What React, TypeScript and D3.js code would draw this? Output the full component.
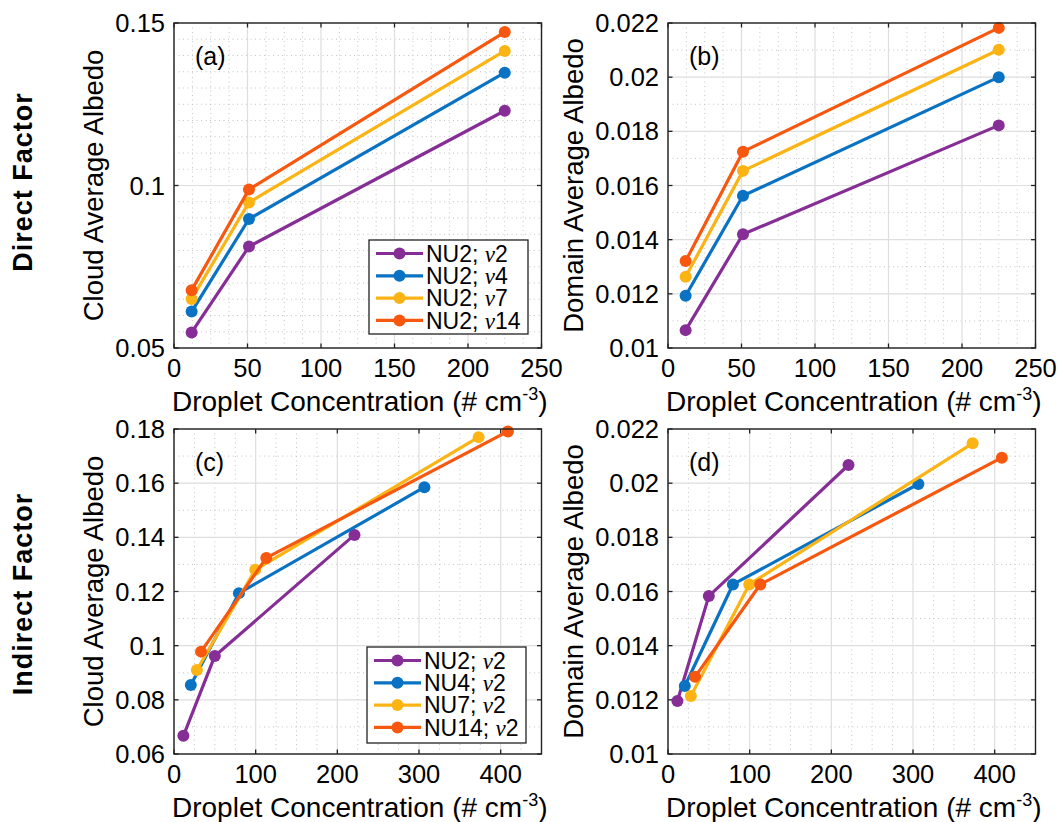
import React from 'react';
import * as d3 from 'd3';

// ---------- data ----------
const COLORS = ['#862E96', '#0A72C2', '#FBB414', '#F7570E'];

// Direct factor (a, b): same droplet concentration for all series
const xDirect = [12, 51, 225];
const aNu2v2 = [0.0548, 0.0812, 0.123];
const aNu2v4 = [0.0612, 0.0897, 0.1347];
const aNu2v7 = [0.0651, 0.0948, 0.1414];
const aNu2v14 = [0.0678, 0.0988, 0.1472];

const bNu2v2 = [0.01066, 0.0142, 0.01822];
const bNu2v4 = [0.01193, 0.01562, 0.02];
const bNu2v7 = [0.01263, 0.01654, 0.02101];
const bNu2v14 = [0.01321, 0.01725, 0.02182];

// Indirect factor (c, d)
const xNu2 = [11.5, 50, 221];
const xNu4 = [20.6, 79.5, 306.6];
const xNu7 = [28, 99.5, 373];
const xNu14 = [33.1, 113, 408.8];

const cNu2 = [0.0667, 0.0962, 0.1409];
const cNu4 = [0.0855, 0.1194, 0.1585];
const cNu7 = [0.091, 0.128, 0.177];
const cNu14 = [0.0978, 0.1324, 0.1791];

const dNu2 = [0.01196, 0.01583, 0.02067];
const dNu4 = [0.01251, 0.01626, 0.01997];
const dNu7 = [0.01214, 0.01626, 0.02147];
const dNu14 = [0.01285, 0.01626, 0.02094];

const legendDirect = ['NU2; ν2', 'NU2; ν4', 'NU2; ν7', 'NU2; ν14'];
const legendIndirect = ['NU2; ν2', 'NU4; ν2', 'NU7; ν2', 'NU14; ν2'];

const xTicksDirect = [0, 50, 100, 150, 200, 250];
const xTicksIndirect = [0, 100, 200, 300, 400];
const yTicksA = [0.05, 0.1, 0.15];
const yTicksB = [0.01, 0.012, 0.014, 0.016, 0.018, 0.02, 0.022];
const yTicksC = [0.06, 0.08, 0.1, 0.12, 0.14, 0.16, 0.18];
const yTicksD = [0.01, 0.012, 0.014, 0.016, 0.018, 0.02, 0.022];

const SANS = '"Liberation Sans", Arial, Helvetica, sans-serif';
const SERIF = '"Liberation Serif", "Times New Roman", serif';

type Series = { x: number[]; y: number[]; color: string };

type PanelProps = {
  left: number;
  top: number;
  width: number;
  height: number;
  xDomain: [number, number];
  yDomain: [number, number];
  xTicks: number[];
  yTicks: number[];
  xMinor: number;
  yMinor: number;
  series: Series[];
  yLabel: string;
  yLabelX: number;
  tag: string;
  legend?: { labels: string[]; x: number; y: number; w: number; h: number };
};

const fmt = (v: number) => String(+v.toFixed(6));

function minorRange(d: [number, number], step: number, majors: number[]) {
  const out: number[] = [];
  const n = Math.round((d[1] - d[0]) / step);
  for (let i = 0; i <= n; i++) {
    const v = d[0] + i * step;
    if (!majors.some((m) => Math.abs(m - v) < step * 1e-3)) out.push(v);
  }
  return out;
}

function LegendLabel({ text, x, y }: { text: string; x: number; y: number }) {
  const [pre, post] = text.split('ν');
  return (
    <text x={x} y={y} fontFamily={SANS} fontSize={23} fill="#000">
      {pre}
      <tspan fontFamily={SERIF} fontStyle="italic">ν</tspan>
      {post}
    </text>
  );
}

function Panel(p: PanelProps) {
  const xs = d3.scaleLinear().domain(p.xDomain).range([p.left, p.left + p.width]);
  const ys = d3.scaleLinear().domain(p.yDomain).range([p.top + p.height, p.top]);
  const bottom = p.top + p.height;
  const right = p.left + p.width;
  const xMinors = minorRange(p.xDomain, p.xMinor, p.xTicks);
  const yMinors = minorRange(p.yDomain, p.yMinor, p.yTicks);
  const line = d3
    .line<[number, number]>()
    .x((d) => xs(d[0]))
    .y((d) => ys(d[1]));
  const tl = 4.5;
  return (
    <g>
      {/* minor grid */}
      {xMinors.map((v, i) => (
        <line key={'xm' + i} x1={xs(v)} x2={xs(v)} y1={p.top} y2={bottom} stroke="#c4c4c4" strokeWidth={1} strokeDasharray="1 3.5" />
      ))}
      {yMinors.map((v, i) => (
        <line key={'ym' + i} x1={p.left} x2={right} y1={ys(v)} y2={ys(v)} stroke="#c4c4c4" strokeWidth={1} strokeDasharray="1 3.5" />
      ))}
      {/* major grid */}
      {p.xTicks.map((v, i) => (
        <line key={'xg' + i} x1={xs(v)} x2={xs(v)} y1={p.top} y2={bottom} stroke="#dedede" strokeWidth={1.2} />
      ))}
      {p.yTicks.map((v, i) => (
        <line key={'yg' + i} x1={p.left} x2={right} y1={ys(v)} y2={ys(v)} stroke="#dedede" strokeWidth={1.2} />
      ))}
      {/* ticks (inside, mirrored) */}
      {p.xTicks.map((v, i) => (
        <g key={'xt' + i}>
          <line x1={xs(v)} x2={xs(v)} y1={bottom} y2={bottom - tl} stroke="#222" strokeWidth={1.3} />
          <line x1={xs(v)} x2={xs(v)} y1={p.top} y2={p.top + tl} stroke="#222" strokeWidth={1.3} />
          <text x={xs(v)} y={bottom + 29} textAnchor="middle" fontFamily={SANS} fontSize={25.5} fill="#000">
            {fmt(v)}
          </text>
        </g>
      ))}
      {p.yTicks.map((v, i) => (
        <g key={'yt' + i}>
          <line x1={p.left} x2={p.left + tl} y1={ys(v)} y2={ys(v)} stroke="#222" strokeWidth={1.3} />
          <line x1={right} x2={right - tl} y1={ys(v)} y2={ys(v)} stroke="#222" strokeWidth={1.3} />
          <text x={p.left - 9} y={ys(v) + 9} textAnchor="end" fontFamily={SANS} fontSize={25.5} fill="#000">
            {fmt(v)}
          </text>
        </g>
      ))}
      {/* series */}
      {p.series.map((s, si) => {
        const pts = s.x.map((x, i) => [x, s.y[i]] as [number, number]);
        return (
          <g key={'s' + si}>
            <path d={line(pts) || ''} fill="none" stroke={s.color} strokeWidth={3.2} strokeLinejoin="round" />
            {pts.map((d, i) => (
              <circle key={i} cx={xs(d[0])} cy={ys(d[1])} r={6} fill={s.color} />
            ))}
          </g>
        );
      })}
      {/* box */}
      <rect x={p.left} y={p.top} width={p.width} height={p.height} fill="none" stroke="#222" strokeWidth={1.4} />
      {/* panel tag */}
      <text x={p.left + 21} y={p.top + 42} fontFamily={SANS} fontSize={25} fill="#000">
        {p.tag}
      </text>
      {/* legend */}
      {p.legend && (
        <g>
          <rect x={p.legend.x} y={p.legend.y} width={p.legend.w} height={p.legend.h} fill="#fff" stroke="#222" strokeWidth={1.3} />
          {p.legend.labels.map((lab, i) => {
            const cy = p.legend!.y + 13.5 + i * 22.3;
            const lx = p.legend!.x + 7;
            return (
              <g key={'lg' + i}>
                <line x1={lx} x2={lx + 47} y1={cy} y2={cy} stroke={COLORS[i]} strokeWidth={3.2} />
                <circle cx={lx + 23.5} cy={cy} r={6} fill={COLORS[i]} />
                <LegendLabel text={lab} x={lx + 50} y={cy + 8.3} />
              </g>
            );
          })}
        </g>
      )}
      {/* y label */}
      <text
        transform={`translate(${p.yLabelX},${p.top + p.height / 2}) rotate(-90)`}
        textAnchor="middle"
        fontFamily={SANS}
        fontSize={27.5}
        fill="#000"
      >
        {p.yLabel}
      </text>
      {/* x label */}
      <text x={p.left + p.width / 2 + 2} y={bottom + 63} textAnchor="middle" fontFamily={SANS} fontSize={28} fill="#000">
        Droplet Concentration (# cm
        <tspan fontSize={18} dy={-11}>-3</tspan>
        <tspan dy={11}>)</tspan>
      </text>
    </g>
  );
}

export default function App() {
  const W = 367.5;
  const H = 325;
  const directA: Series[] = [aNu2v2, aNu2v4, aNu2v7, aNu2v14].map((y, i) => ({ x: xDirect, y, color: COLORS[i] }));
  const directB: Series[] = [bNu2v2, bNu2v4, bNu2v7, bNu2v14].map((y, i) => ({ x: xDirect, y, color: COLORS[i] }));
  const indX = [xNu2, xNu4, xNu7, xNu14];
  const indC: Series[] = [cNu2, cNu4, cNu7, cNu14].map((y, i) => ({ x: indX[i], y, color: COLORS[i] }));
  const indD: Series[] = [dNu2, dNu4, dNu7, dNu14].map((y, i) => ({ x: indX[i], y, color: COLORS[i] }));
  return (
    <svg
      width={1058}
      height={822}
      viewBox="0 0 1058 822"
      style={{ position: 'absolute', left: 0, top: 0, background: '#fff' }}
    >
      <rect x={0} y={0} width={1058} height={822} fill="#fff" />
      <text
        transform="translate(32,182) rotate(-90)"
        textAnchor="middle"
        fontFamily={SANS}
        fontWeight="bold"
        fontSize={27}
        letterSpacing={1}
        fill="#000"
      >
        Direct Factor
      </text>
      <text
        transform="translate(32,594) rotate(-90)"
        textAnchor="middle"
        fontFamily={SANS}
        fontWeight="bold"
        fontSize={27}
        letterSpacing={1}
        fill="#000"
      >
        Indirect Factor
      </text>
      <Panel
        left={174}
        top={23}
        width={W}
        height={H}
        xDomain={[0, 250]}
        yDomain={[0.05, 0.15]}
        xTicks={xTicksDirect}
        yTicks={yTicksA}
        xMinor={12.5}
        yMinor={0.005}
        series={directA}
        yLabel="Cloud Average Albedo"
        yLabelX={103}
        tag="(a)"
        legend={{ labels: legendDirect, x: 369, y: 240, w: 159, h: 94 }}
      />
      <Panel
        left={668}
        top={23}
        width={W}
        height={H}
        xDomain={[0, 250]}
        yDomain={[0.01, 0.022]}
        xTicks={xTicksDirect}
        yTicks={yTicksB}
        xMinor={12.5}
        yMinor={0.001}
        series={directB}
        yLabel="Domain Average Albedo"
        yLabelX={583}
        tag="(b)"
      />
      <Panel
        left={174}
        top={429}
        width={W}
        height={H}
        xDomain={[0, 450]}
        yDomain={[0.06, 0.18]}
        xTicks={xTicksIndirect}
        yTicks={yTicksC}
        xMinor={25}
        yMinor={0.01}
        series={indC}
        yLabel="Cloud Average Albedo"
        yLabelX={103}
        tag="(c)"
        legend={{ labels: legendIndirect, x: 367, y: 647, w: 159, h: 96 }}
      />
      <Panel
        left={668}
        top={429}
        width={W}
        height={H}
        xDomain={[0, 450]}
        yDomain={[0.01, 0.022]}
        xTicks={xTicksIndirect}
        yTicks={yTicksD}
        xMinor={25}
        yMinor={0.001}
        series={indD}
        yLabel="Domain Average Albedo"
        yLabelX={583}
        tag="(d)"
      />
    </svg>
  );
}
